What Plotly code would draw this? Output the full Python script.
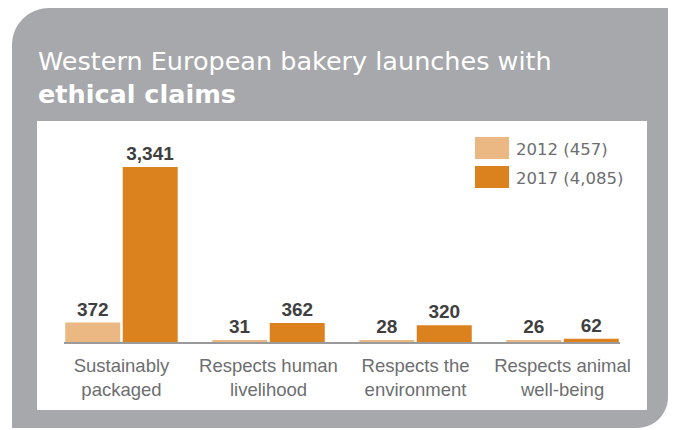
import plotly.graph_objects as go

# Chart data
categories = ["Sustainably<br>packaged", "Respects human<br>livelihood",
              "Respects the<br>environment", "Respects animal<br>well-being"]
series_names = ["2012 (457)", "2017 (4,085)"]
values_2012 = [372, 31, 28, 26]
values_2017 = [3341, 362, 320, 62]

title_line1 = "Western European bakery launches with"
title_line2 = "ethical claims"

# Styling
W, H = 673, 430
LIGHT = "#EBB883"
DARK = "#DB821F"
PANEL = "#A7A8AB"
LABEL = "#3F3F3F"
MUTED = "#6D6E70"
FONT = "Liberation Sans, Arial, sans-serif"
WIDE = "DejaVu Sans, sans-serif"

# Plot area in pixels
PL, PR, PT, PB = 64, 620, 132, 342


def px_x(x):
    return (x - PL) / (PR - PL)


def px_y(y):
    return (PB - y) / (PB - PT)


fig = go.Figure()
for name, vals, color in [(series_names[0], values_2012, LIGHT),
                          (series_names[1], values_2017, DARK)]:
    fig.add_trace(go.Bar(
        x=list(range(len(categories))), y=vals, name=name,
        marker=dict(color=color, line=dict(width=0)),
        texttemplate="%{y:,}", textposition="outside",
        textfont=dict(family=FONT, size=19, color=LABEL, weight="bold"),
        cliponaxis=False, showlegend=False,
    ))

# Rounded grey panel (top-left and bottom-right corners rounded)
k = 0.5523
x0, y0, x1, y1 = 12, 8, 668, 428
r1, r2 = 37, 31


def P(x, y):
    return f"{px_x(x):.5f},{px_y(y):.5f}"


path = (
    f"M {P(x0 + r1, y0)} L {P(x1, y0)} L {P(x1, y1 - r2)} "
    f"C {P(x1, y1 - r2 + k * r2)} {P(x1 - r2 + k * r2, y1)} {P(x1 - r2, y1)} "
    f"L {P(x0, y1)} L {P(x0, y0 + r1)} "
    f"C {P(x0, y0 + r1 - k * r1)} {P(x0 + r1 - k * r1, y0)} {P(x0 + r1, y0)} Z"
)
shapes = [
    dict(type="path", path=path, xref="paper", yref="paper",
         fillcolor=PANEL, line=dict(width=0), layer="below"),
    dict(type="rect", xref="paper", yref="paper",
         x0=px_x(37), x1=px_x(647), y0=px_y(410), y1=px_y(121),
         fillcolor="white", line=dict(width=0), layer="below"),
]

# Legend swatches and labels
annotations = []
for i, (name, color) in enumerate(zip(series_names, [LIGHT, DARK])):
    top = 137 + i * 29
    shapes.append(dict(type="rect", xref="paper", yref="paper",
                       x0=px_x(475), x1=px_x(509), y0=px_y(top + 22), y1=px_y(top),
                       fillcolor=color, line=dict(width=0)))
    annotations.append(dict(text=name, xref="paper", yref="paper",
                            x=px_x(514), y=px_y(top + 12), xanchor="left",
                            yanchor="middle", showarrow=False,
                            font=dict(family=WIDE, size=16.5, color=MUTED)))

# Title
annotations.append(dict(text=title_line1, xref="paper", yref="paper",
                        x=px_x(36), y=px_y(61), xanchor="left", yanchor="middle",
                        showarrow=False,
                        font=dict(family=WIDE, size=25.5, color="white")))
annotations.append(dict(text=f"<b>{title_line2}</b>", xref="paper", yref="paper",
                        x=px_x(36), y=px_y(94), xanchor="left", yanchor="middle",
                        showarrow=False,
                        font=dict(family=WIDE, size=25.5, color="white")))

fig.update_layout(
    width=W, height=H,
    margin=dict(l=PL, r=W - PR, t=PT, b=H - PB, pad=0),
    paper_bgcolor="white", plot_bgcolor="rgba(0,0,0,0)",
    barmode="group", bargap=0.2177, bargroupgap=0.0435,
    shapes=shapes, annotations=annotations,
    xaxis=dict(range=[-0.391, 3.391], tickmode="array",
               tickvals=list(range(len(categories))), ticktext=categories,
               showline=True, linecolor="#9A9A9A", linewidth=2,
               showgrid=False, zeroline=False, ticks="",
               ticklabelstandoff=6,
               tickfont=dict(family=FONT, size=18.5, color=MUTED),
               fixedrange=True),
    yaxis=dict(range=[0, 4010], visible=False, fixedrange=True),
    showlegend=False,
)

fig.write_html("out.html", config={"displayModeBar": False})
